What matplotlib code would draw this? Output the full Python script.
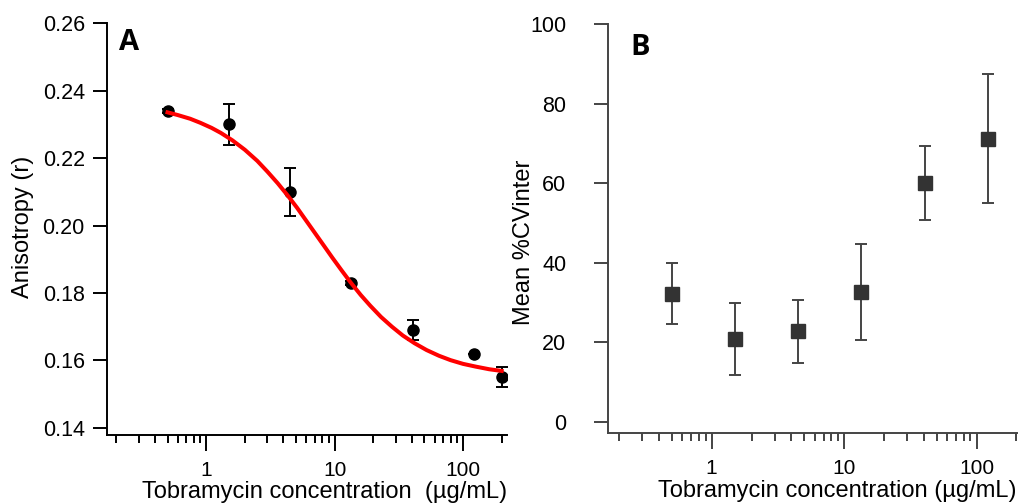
import numpy as np
import matplotlib
matplotlib.use('Agg')
import matplotlib.pyplot as plt
from matplotlib.ticker import LogLocator, NullFormatter

plt.rcParams['font.family'] = ['Liberation Sans', 'DejaVu Sans']

# Panel A: anisotropy vs tobramycin concentration
conc_a = [0.5, 1.5, 4.5, 13.5, 40.5, 121.5, 200]
aniso = [0.234, 0.230, 0.210, 0.183, 0.169, 0.162, 0.155]
aniso_err = [0.0005, 0.006, 0.007, 0.0005, 0.003, 0.0, 0.003]

# fitted curve
fit_x = [0.5, 0.6, 0.75, 0.9, 1.1, 1.3, 1.6, 2.0, 2.5, 3.0, 3.6, 4.3, 5.1,
         6.0, 7.0, 8.2, 9.6, 11.3, 13.3, 16, 19, 23, 28, 34, 42, 52, 65,
         80, 100, 125, 160, 200]
fit_y = [0.2336, 0.2328, 0.2317, 0.2305, 0.2290, 0.2275, 0.2253, 0.2225,
         0.2192, 0.2160, 0.2126, 0.2090, 0.2053, 0.2015, 0.1979, 0.1942,
         0.1905, 0.1868, 0.1832, 0.1794, 0.1762, 0.1729, 0.1700, 0.1674,
         0.1651, 0.1631, 0.1614, 0.1601, 0.1590, 0.1582, 0.1574, 0.1569]

# Panel B: mean %CV inter
conc_b = [0.5, 1.5, 4.5, 13.5, 40.5, 121.5]
cv = [32.2, 20.8, 22.7, 32.6, 60.1, 71.2]
cv_err = [7.6, 9.0, 7.9, 12.1, 9.3, 16.3]

fig = plt.figure(figsize=(10.33, 5.04), dpi=100)
axA = fig.add_axes([0.1036, 0.1369, 0.3872, 0.8175])
axB = fig.add_axes([0.5886, 0.1409, 0.3959, 0.8115])


def style_axis(ax, col, ypad):
    for s in ['top', 'right']:
        ax.spines[s].set_visible(False)
    for s in ['left', 'bottom']:
        ax.spines[s].set_color(col)
        ax.spines[s].set_linewidth(1.4)
    ax.set_xscale('log')
    ax.xaxis.set_minor_locator(LogLocator(base=10, subs=np.arange(2, 10)))
    ax.xaxis.set_minor_formatter(NullFormatter())
    ax.set_xticks([1, 10, 100], labels=['1', '10', '100'])
    ax.tick_params(axis='x', which='major', direction='out', length=11.5,
                   width=1.4, color=col, labelsize=15, pad=7)
    ax.tick_params(axis='x', which='minor', direction='out', length=6,
                   width=1.4, color=col)
    ax.tick_params(axis='y', which='major', direction='out', length=10,
                   width=1.4, color=col, labelsize=15.5, pad=ypad)


# ---- panel A
axA.errorbar(conc_a, aniso, yerr=aniso_err, fmt='o', color='black',
             markersize=8, capsize=4.3, elinewidth=1.4, capthick=1.4, zorder=2)
axA.plot(fit_x, fit_y, color='#ff0000', lw=2.9, zorder=3)
style_axis(axA, 'black', 6)
axA.set_xlim(0.169, 220)
axA.set_ylim(0.1379, 0.2601)
axA.set_yticks([0.14, 0.16, 0.18, 0.20, 0.22, 0.24, 0.26])
axA.set_yticklabels(['%.2f' % v for v in axA.get_yticks()])
axA.set_xlabel('Tobramycin concentration  (µg/mL)', fontsize=17, ha='right')
axA.xaxis.set_label_coords(1.0, -0.112)
axA.set_ylabel('Anisotropy (r)', fontsize=17)
axA.yaxis.set_label_coords(-0.183, 0.504)
axA.text(119 / 1033, 1 - 50 / 504, 'A', transform=fig.transFigure,
         fontsize=21, fontweight='bold', family=['Open Sans', 'DejaVu Sans'],
         va='baseline', ha='left')

# ---- panel B
axB.errorbar(conc_b, cv, yerr=cv_err, fmt='s', color='#333333',
             ecolor='#444444', markersize=10, capsize=4.3, elinewidth=1.4,
             capthick=1.4, zorder=2)
style_axis(axB, '#444444', 20)
axB.set_xlim(0.165, 202)
axB.set_ylim(-2.85, 100)
axB.set_yticks([0, 20, 40, 60, 80, 100])
axB.set_xlabel('Tobramycin concentration (µg/mL)', fontsize=17, ha='right')
axB.xaxis.set_label_coords(1.0, -0.116)
axB.set_ylabel('Mean %CVinter', fontsize=17)
axB.yaxis.set_label_coords(-0.178, 0.466)
axB.text(630 / 1033, 1 - 55 / 504, 'B', transform=fig.transFigure,
         fontsize=21, fontweight='bold', family=['Open Sans', 'DejaVu Sans'],
         va='baseline', ha='left')

fig.savefig('out.png', dpi=100)
